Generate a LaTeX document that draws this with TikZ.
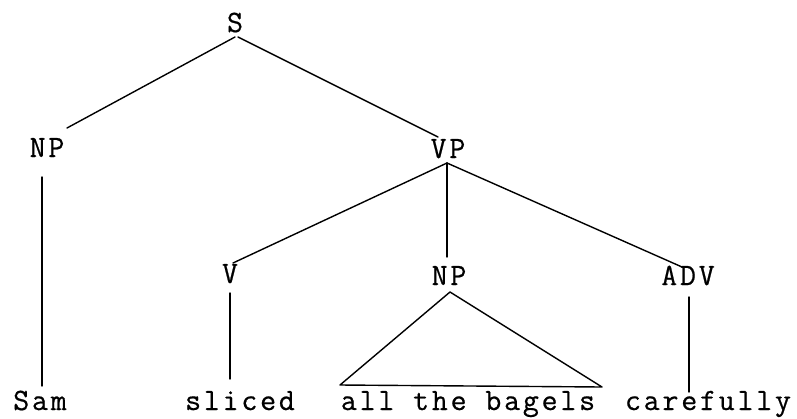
\documentclass[tikz,border=0pt]{standalone}
\usepackage{fontspec}
\setmonofont{Latin Modern Mono}[LetterSpace=9,FakeBold=0.6]
\begin{document}
\begin{tikzpicture}[x=1pt,y=-1pt,
  lbl/.style={anchor=base,inner sep=0pt,font=\ttfamily\fontsize{31}{36}\selectfont},
  edge/.style={line width=1.4pt,line cap=round}]
\useasboundingbox (0,0) rectangle (797,418);
\node[lbl] (S) at (235,32) {S};
\node[lbl] (NPa) at (47,157) {NP};
\node[lbl] (VP) at (448,158) {VP};
\node[lbl] (V) at (230,283) {V};
\node[lbl] (NPb) at (449,285) {NP};
\node[lbl] (ADV) at (688,285) {ADV};
\node[lbl] (Sam) at (40,410) {Sam};
\node[lbl] (sliced) at (240,410) {sliced};
\node[lbl] (bagels) at (468,410) {all the bagels};
\node[lbl] (carefully) at (708,410) {carefully};
\draw[edge] ([yshift=-5pt]S.base) -- ([xshift=20pt,yshift=29pt]NPa.base);
\draw[edge] ([xshift=3pt,yshift=-5pt]S.base) -- ([xshift=-10pt,yshift=21pt]VP.base);
\draw[edge] ([xshift=-5pt,yshift=-20pt]NPa.base) -- ([xshift=2pt,yshift=24pt]Sam.base);
\draw[edge] ([xshift=-1pt,yshift=-5pt]VP.base) -- ([xshift=3pt,yshift=20pt]V.base);
\draw[edge] ([xshift=-1pt,yshift=-5pt]VP.base) -- ([xshift=-2pt,yshift=28pt]NPb.base);
\draw[edge] ([xshift=-1pt,yshift=-5pt]VP.base) -- ([xshift=-6pt,yshift=18pt]ADV.base);
\draw[edge] ([yshift=-10pt]V.base) -- ([xshift=-10pt,yshift=31pt]sliced.base);
\draw[edge,line join=round] ([xshift=1pt,yshift=-7pt]NPb.base) -- ([xshift=-128pt,yshift=25pt]bagels.base) -- ([xshift=134pt,yshift=23pt]bagels.base) -- cycle;
\draw[edge] ([xshift=1pt,yshift=-12pt]ADV.base) -- ([xshift=-19pt,yshift=18pt]carefully.base);
\end{tikzpicture}
\end{document}
